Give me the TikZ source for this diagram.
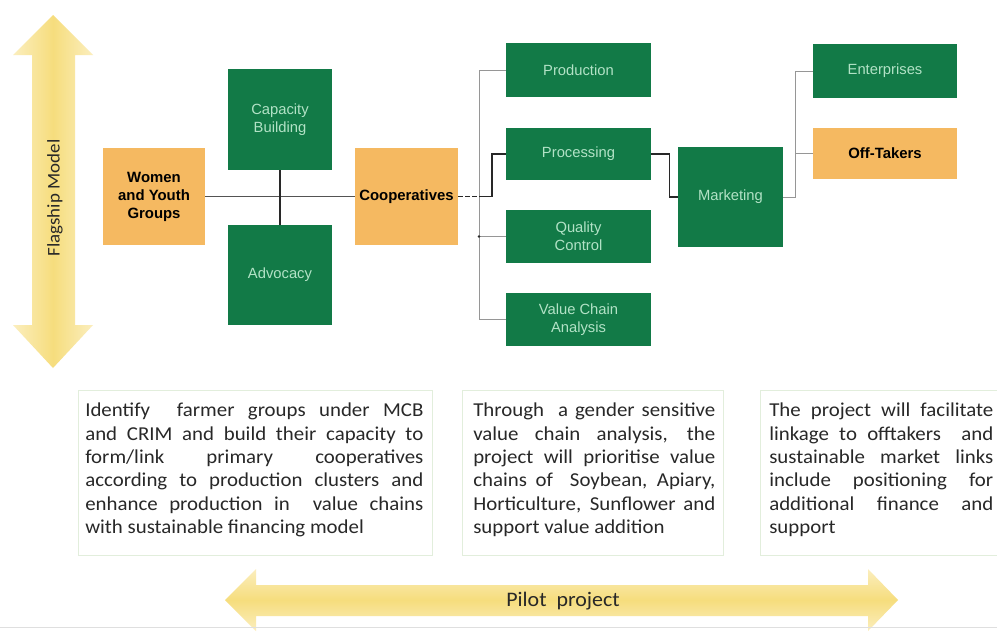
\documentclass[tikz,border=0pt]{standalone}
\usepackage{fontspec}
\setmainfont[FakeStretch=1.06]{Carlito}
\newfontfamily\arialf{Liberation Sans}
\definecolor{gfill}{RGB}{18,122,71}
\definecolor{ofill}{RGB}{245,185,97}
\definecolor{mint}{RGB}{178,226,198}
\definecolor{ylight}{RGB}{251,238,190}
\definecolor{ydark}{RGB}{246,221,125}
\definecolor{txtgray}{RGB}{40,40,40}
\definecolor{boxline}{RGB}{226,238,220}
\definecolor{brgray}{RGB}{150,150,150}
\definecolor{darkln}{RGB}{40,40,40}
\tikzset{
  gbox/.style={fill=gfill, draw=none, text=mint, align=center,
    font=\arialf\fontsize{10.5}{13}\selectfont, inner sep=2pt},
  obox/.style={fill=ofill, draw=none, text=black, align=center,
    font=\arialf\bfseries\fontsize{10.6}{12.8}\selectfont, inner sep=2pt},
  para/.style={anchor=north west, inner sep=0pt, align=justify, text=txtgray,
    font=\fontsize{14}{16.6}\selectfont},
  bracketln/.style={draw=brgray, line width=0.5pt},
  darkline/.style={draw=darkln, line width=1pt},
  midline/.style={draw=darkln!80, line width=0.7pt},
}
\begin{document}
\begin{tikzpicture}[x=0.025cm,y=-0.025cm]
\useasboundingbox (0,0) rectangle (997,631);
\fill[white] (0,0) rectangle (997,631);

% Flagship arrow
\shade[left color=ylight, right color=ylight, middle color=ydark]
  (53,15) -- (93,55) -- (75,55) -- (75,325) -- (93,325) -- (53,368)
  -- (13,325) -- (32,325) -- (32,55) -- (13,55) -- cycle;
\node[rotate=90, text=txtgray, font=\fontsize{12.7}{14}\selectfont] (flag) at (55,198) {Flagship Model};

% Pilot arrow
\shade[top color=ylight, bottom color=ylight, middle color=ydark]
  (225,600) -- (256,569) -- (256,585) -- (868,585) -- (868,569) -- (898,600)
  -- (868,631) -- (868,616) -- (256,616) -- (256,631) -- cycle;
\node[text=txtgray, font=\fontsize{14.7}{16}\selectfont] (pilot) at (563,601) {Pilot~ project};
\draw[gray!25, line width=0.6pt] (0,627) -- (997,627);

% Boxes
\node[obox, minimum width=2.55cm, minimum height=2.425cm] (women) at (154,196.5) {Women\\and Youth\\Groups};
\node[gbox, minimum width=2.6cm, minimum height=2.525cm] (cap) at (280,119.5) {Capacity\\Building};
\node[gbox, minimum width=2.6cm, minimum height=2.5cm] (adv) at (280,275) {Advocacy};
\node[obox, minimum width=2.575cm, minimum height=2.425cm] (coop) at (406.5,196.5) {Cooperatives};
\node[gbox, minimum width=3.625cm, minimum height=1.35cm] (prod) at (578.5,70) {Production};
\node[gbox, minimum width=3.625cm, minimum height=1.3cm] (proc) at (578.5,154) {Processing};
\node[gbox, minimum width=3.625cm, minimum height=1.325cm] (qc) at (578.5,236.5) {Quality\\Control};
\node[gbox, minimum width=3.625cm, minimum height=1.325cm] (vca) at (578.5,319.5) {Value Chain\\Analysis};
\node[gbox, minimum width=2.625cm, minimum height=2.5cm] (mkt) at (730.5,197) {Marketing};
\node[gbox, minimum width=3.6cm, minimum height=1.35cm] (ent) at (885,71) {Enterprises};
\node[obox, minimum width=3.6cm, minimum height=1.275cm] (off) at (885,153.5) {Off-Takers};

% Connectors
\draw[midline] (women.east) -- (coop.west);
\draw[darkline] (cap.south) -- (adv.north);
\coordinate (brx) at (479,0);
\coordinate (brx2) at (795,0);
\coordinate (cpt) at (479,196.5);
\draw[bracketln] (prod.west) -- (prod.west -| brx) -- (vca.west -| brx) -- (vca.west);
\draw[bracketln] (qc.west) -- (qc.west -| brx);
\fill[darkln] (qc.west -| brx) circle (1.3);
\draw[darkline, densely dashed] (coop.east) -- (cpt);
\draw[darkline] (cpt) -- ++(13,0) |- (proc.west);
\draw[darkline] (proc.east) -- ++(18,0) |- (mkt.west);
\draw[bracketln] (mkt.east) -- (mkt.east -| brx2) |- (ent.west);
\draw[bracketln] (off.west) -- (off.west -| brx2);

% Text boxes
\draw[boxline, line width=0.7pt] (78,390) rectangle (432,555);
\draw[boxline, line width=0.7pt] (462,390) rectangle (723,555);
\draw[boxline, line width=0.7pt] (760,390) rectangle (1005,555);
\node[para, text width=8.45cm] (t1) at (85,403) {Identify\ \ farmer groups under MCB\linebreak
and CRIM and build their capacity to\linebreak
form/link primary cooperatives\linebreak
according to production clusters and\linebreak
enhance production in\ \ value chains\linebreak
with sustainable financing model};
\node[para, text width=6.05cm] (t2) at (473,403) {Through\ \ a gender sensitive\linebreak
value chain analysis, the\linebreak
project will prioritise value\linebreak
chains of\ \ Soybean, Apiary,\linebreak
Horticulture, Sunflower and\linebreak
support value addition};
\node[para, text width=5.6cm] (t3) at (769,403) {The project will facilitate\linebreak
linkage to offtakers\ \ and\linebreak
sustainable market links\linebreak
include positioning for\linebreak
additional finance and\linebreak
support};
\end{tikzpicture}
\end{document}
